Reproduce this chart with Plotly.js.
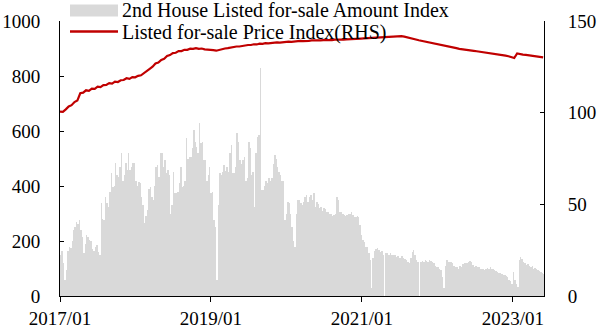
<!DOCTYPE html>
<html>
<head>
<meta charset="utf-8">
<script src="https://cdn.plot.ly/plotly-3.0.1.min.js"></script>
<style>
  html, body { margin: 0; padding: 0; background: #fff; }
  #chart { width: 597px; height: 332px; }
</style>
</head>
<body>
<div id="chart"></div>
<script>
// Series names
const amountName = '2nd House Listed for-sale Amount Index';
const priceName = 'Listed for-sale Price Index(RHS)';

// Weekly listed-for-sale amount index (left axis), one value per week from 2017-01-01
const amountIndex = [
  150,165,120,60,95,165,180,175,200,240,
  250,270,262,276,240,215,155,190,222,215,
  205,200,170,165,180,185,160,150,337,280,
  276,361,340,325,380,446,397,400,482,440,
  434,470,519,420,440,482,460,519,458,470,
  482,484,420,400,415,410,360,330,265,290,
  313,390,397,360,349,400,470,476,434,519,
  519,470,494,446,460,440,300,330,450,373,
  373,380,410,470,397,400,420,573,500,506,
  506,540,603,560,543,520,628,555,560,494,
  494,420,440,470,373,380,276,250,60,330,
  446,440,450,475,455,470,450,520,549,446,
  446,470,591,560,494,480,494,506,420,430,
  561,540,440,450,325,520,580,585,828,385,
  385,400,420,410,428,420,430,480,513,500,
  470,450,440,420,420,276,300,343,338,300,
  250,200,180,300,349,349,340,330,343,360,
  367,343,360,367,350,373,325,343,335,320,
  325,310,320,315,307,307,300,300,290,295,
  300,361,350,307,307,300,295,290,295,300,
  300,305,295,288,288,290,288,260,222,205,
  196,180,178,156,130,30,140,165,170,173,
  167,160,165,150,0,155,155,150,155,150,
  150,148,143,145,140,137,145,140,135,130,
  125,119,140,160,167,150,131,125,0,125,
  128,125,131,127,125,130,128,125,120,110,
  107,105,100,95,70,30,110,131,125,125,
  125,120,110,105,105,100,110,107,115,119,
  119,121,123,128,125,113,107,110,105,105,
  100,97,100,95,100,103,100,104,100,97,
  95,90,87,85,82,80,77,75,72,68,
  60,55,45,88,60,45,33,130,143,135,
  125,120,113,115,110,105,108,100,103,97,
  95,90,88,82,80
];

// Fortnightly listed-for-sale price index (right axis), from 2017-01-01
const priceIndex = [
  100.6,100.4,101.8,103.4,104.1,105.8,106.6,110.6,110.9,112.2,
  111.9,113.1,113.0,114.2,113.9,115.0,115.1,116.1,115.8,116.9,
  116.7,117.7,117.8,118.8,118.4,119.4,119.3,120.1,120.4,121.5,
  122.3,123.9,125.1,126.8,127.3,128.8,129.4,130.9,131.4,132.5,
  132.7,133.6,133.6,134.3,134.3,134.9,134.8,135.2,134.8,135.0,
  134.5,134.5,134.1,134.1,133.8,134.3,134.5,135.0,135.2,135.6,
  135.7,136.1,136.1,136.5,136.5,136.9,136.9,137.3,137.2,137.6,
  137.5,137.9,137.8,138.1,138.0,138.3,138.2,138.5,138.4,138.7,
  138.6,138.9,138.9,139.2,139.0,139.3,139.2,139.4,139.3,139.5,
  139.4,139.6,139.5,139.7,139.6,139.8,139.7,139.9,139.8,140.0,
  140.0,140.1,140.2,140.3,140.4,140.5,140.6,140.7,140.8,140.9,
  141.0,141.1,141.3,141.5,141.6,141.7,141.8,141.8,141.7,141.5,
  141.2,140.8,140.3,139.9,139.5,139.2,138.9,138.6,138.3,137.9,
  137.5,137.2,136.9,136.5,136.2,135.9,135.5,135.2,134.8,134.5,
  134.3,134.1,133.9,133.7,133.5,133.3,133.1,132.9,132.7,132.4,
  132.2,132.0,131.7,131.4,131.1,130.8,130.2,129.8,132.3,131.8,
  131.7,131.5,131.3,131.1,130.9,130.7,130.5,130.2
];

// Axis tick labels
const xTickVals = ['2017-01-01', '2019-01-01', '2021-01-01', '2023-01-01'];
const xTickText = ['2017/01', '2019/01', '2021/01', '2023/01'];

const DAY = 86400000;
const START = Date.UTC(2017, 0, 1);
function dateAfter(days) {
  return new Date(START + days * DAY).toISOString().slice(0, 10);
}
const amountDates = amountIndex.map((_, i) => dateAfter(i * 7));
const priceDates = priceIndex.map((_, i) => dateAfter(i * 14));

const FONT = 'Liberation Serif, Times New Roman, serif';
const GREY = '#d9d9d9';
const RED = '#c00000';

const traces = [
  {
    type: 'bar',
    name: amountName,
    x: amountDates,
    y: amountIndex,
    width: 7 * DAY,
    offset: 0,
    marker: { color: GREY, line: { width: 0 } },
    yaxis: 'y',
    hoverinfo: 'skip'
  },
  {
    type: 'scatter',
    mode: 'lines',
    name: priceName,
    x: priceDates,
    y: priceIndex,
    line: { color: RED, width: 2.2 },
    yaxis: 'y2',
    hoverinfo: 'skip'
  }
];

// Plot area: 60..544 px horizontally, 21..296 px vertically
const L = 60, R = 544, T = 21, B = 296;
const px = v => (v - L) / (R - L);
const py = v => (B - v) / (B - T);

const tickFont = { family: FONT, size: 19, color: '#000' };
const legendFont = { family: FONT, size: 20, color: '#000' };

const layout = {
  width: 597,
  height: 332,
  margin: { l: L, r: 597 - R, t: T, b: 332 - B, pad: 0 },
  paper_bgcolor: '#ffffff',
  plot_bgcolor: '#ffffff',
  showlegend: false,
  bargap: 0,
  font: tickFont,
  xaxis: {
    type: 'date',
    range: ['2017-01-01', '2023-06-01'],
    tickvals: xTickVals,
    ticktext: xTickText,
    ticks: 'outside',
    ticklen: 5,
    tickcolor: '#000',
    showline: true,
    linecolor: '#000',
    linewidth: 1,
    showgrid: false,
    zeroline: false,
    tickfont: tickFont
  },
  yaxis: {
    range: [0, 1000],
    tickvals: [0, 200, 400, 600, 800, 1000],
    ticks: 'inside',
    ticklen: 4,
    tickcolor: '#000',
    showline: true,
    linecolor: '#000',
    linewidth: 1,
    showgrid: false,
    zeroline: false,
    ticklabelstandoff: 15,
    tickfont: tickFont
  },
  yaxis2: {
    range: [0, 150],
    tickvals: [0, 50, 100, 150],
    overlaying: 'y',
    side: 'right',
    ticks: 'inside',
    ticklen: 4,
    tickcolor: '#000',
    showline: true,
    linecolor: '#000',
    linewidth: 1,
    showgrid: false,
    zeroline: false,
    ticklabelstandoff: 19,
    tickfont: tickFont
  },
  shapes: [
    {
      type: 'rect', xref: 'paper', yref: 'paper',
      x0: px(70), x1: px(118), y0: py(16.5), y1: py(4.5),
      fillcolor: GREY, line: { width: 0 }
    },
    {
      type: 'line', xref: 'paper', yref: 'paper',
      x0: px(70), x1: px(118), y0: py(31.5), y1: py(31.5),
      line: { color: RED, width: 2.5 }
    }
  ],
  annotations: [
    {
      xref: 'paper', yref: 'paper', x: px(121), y: py(9.5),
      xanchor: 'left', yanchor: 'middle', showarrow: false,
      borderpad: 0,
      text: amountName, font: legendFont
    },
    {
      xref: 'paper', yref: 'paper', x: px(121), y: py(32),
      xanchor: 'left', yanchor: 'middle', showarrow: false,
      borderpad: 0,
      text: priceName, font: legendFont
    }
  ]
};

Plotly.newPlot('chart', traces, layout, { staticPlot: true, displayModeBar: false });
</script>
</body>
</html>
